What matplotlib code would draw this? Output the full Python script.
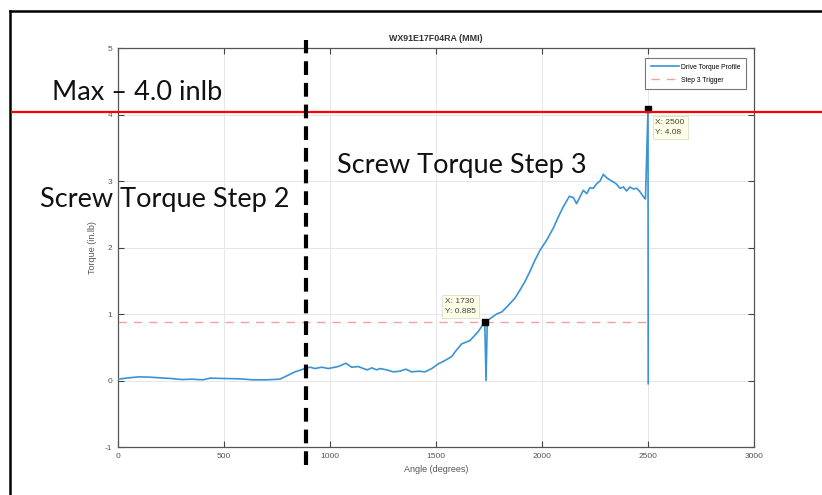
import matplotlib
matplotlib.use("Agg")
import matplotlib.pyplot as plt
from matplotlib.lines import Line2D

plt.rcParams["axes.unicode_minus"] = False

# ---- data ----
angle = [0, 50, 100, 150, 200, 250, 300, 350, 400, 434, 500, 575, 637, 700, 764,
         796, 835, 882, 906, 929, 961, 992, 1039, 1075, 1102, 1134, 1157, 1176,
         1197, 1220, 1236, 1267, 1299, 1330, 1358, 1385, 1417, 1448, 1480, 1511,
         1542, 1574, 1597, 1621, 1660, 1698, 1715, 1730, 1736, 1742, 1755, 1786,
         1810, 1841, 1873, 1896, 1920, 1943, 1967, 1991, 2022, 2053, 2077, 2100,
         2129, 2148, 2163, 2179, 2195, 2211, 2226, 2242, 2258, 2274, 2289, 2308,
         2329, 2349, 2368, 2384, 2399, 2415, 2431, 2447, 2462, 2481, 2488, 2500, 2501]
torque = [0.02, 0.04, 0.055, 0.05, 0.04, 0.03, 0.015, 0.02, 0.01, 0.035, 0.03, 0.025, 0.01, 0.01, 0.02,
          0.07, 0.13, 0.18, 0.2, 0.18, 0.2, 0.18, 0.21, 0.26, 0.2, 0.21, 0.18, 0.16,
          0.19, 0.16, 0.18, 0.16, 0.13, 0.14, 0.17, 0.13, 0.14, 0.13, 0.18, 0.25,
          0.30, 0.36, 0.46, 0.55, 0.6, 0.73, 0.81, 0.885, 0.0, 0.9, 0.93, 1.0,
          1.03, 1.13, 1.24, 1.36, 1.49, 1.64, 1.81, 1.96, 2.11, 2.29, 2.46, 2.61,
          2.77, 2.75, 2.66, 2.76, 2.86, 2.81, 2.90, 2.89, 2.96, 3.0, 3.10, 3.04,
          3.0, 2.96, 2.89, 2.91, 2.85, 2.91, 2.88, 2.89, 2.84, 2.75, 2.73, 4.08, -0.05]
trigger_level = 0.885
trigger_range = [0, 2500]
tips = [(1730, 0.885), (2500, 4.08)]
tip_labels = ["X: 1730\nY: 0.885", "X: 2500\nY: 4.08"]
max_level = 4.04
step_boundary = 887
xticks = [0, 500, 1000, 1500, 2000, 2500, 3000]
yticks = [-1, 0, 1, 2, 3, 4, 5]

W, H = 822, 495
fig = plt.figure(figsize=(W / 100, H / 100), dpi=100)
ax = fig.add_axes([118 / W, 1 - 447 / H, 636 / W, 399 / H])

small = ["Liberation Sans", "DejaVu Sans"]

ax.plot(angle, torque, color="#3A93D6", lw=1.2, label="Drive Torque Profile", zorder=3)
ax.plot(trigger_range, [trigger_level, trigger_level], color="#F4A0A0", lw=1.0,
        ls=(0, (6, 5)), label="Step 3 Trigger", zorder=2)
for (tx, ty) in tips:
    ax.plot([tx], [ty], marker="s", ms=4.5, color="black", zorder=5)

ax.text(1730 - 40, 0.885 + 0.1, tip_labels[0], fontsize=6.0, color="#444444",
        ha="right", va="bottom", linespacing=1.6, family=small, multialignment="left",
        bbox=dict(boxstyle="square,pad=0.35", fc="#FFFFE8", ec="#DDDDCC", lw=0.6), zorder=6)
ax.text(2500 + 35, 4.08 - 0.15, tip_labels[1], fontsize=6.0, color="#444444",
        ha="left", va="top", linespacing=1.6, family=small, multialignment="left",
        bbox=dict(boxstyle="square,pad=0.35", fc="#FFFFE8", ec="#DDDDCC", lw=0.6), zorder=6)

ax.set_xlim(0, 3000)
ax.set_ylim(-1, 5)
ax.set_xticks(xticks)
ax.set_yticks(yticks)
ax.grid(True, color="#E6E6E6", lw=0.7)
ax.set_axisbelow(True)
ax.tick_params(direction="in", top=True, right=True, length=4, width=0.8,
               labelsize=6.0, labelcolor="#555555", color="#444444", pad=4)
for lab in ax.get_xticklabels() + ax.get_yticklabels():
    lab.set_family(small)
for s in ax.spines.values():
    s.set_color("#555555")
    s.set_linewidth(0.9)
ax.set_xlabel("Angle (degrees)", fontsize=6.5, color="#555555", labelpad=4, family=small)
ax.set_ylabel("Torque (in.lb)", fontsize=6.5, color="#555555", labelpad=6, family=small)
ax.set_title("WX91E17F04RA (MMI)", fontsize=6.4, fontweight="bold", color="#333333", pad=5,
             family=small)

leg = ax.legend(loc="upper right", bbox_to_anchor=(0.99, 0.978),
                prop={"family": small, "size": 4.9},
                frameon=True, fancybox=False, edgecolor="#555555", handlelength=4.2,
                handletextpad=0.3, borderpad=0.8, labelspacing=0.9, borderaxespad=0.2)
leg.get_frame().set_linewidth(0.8)

# ---- figure-level annotations ----
fig.add_artist(Line2D([10 / W, 10 / W], [0, 1 - 11 / H], transform=fig.transFigure,
                      color="black", lw=1.8))
fig.add_artist(Line2D([10 / W, 1], [1 - 11 / H, 1 - 11 / H], transform=fig.transFigure,
                      color="black", lw=1.8))

ymax_fig = ax.transData.transform((0, max_level))[1] / H
fig.add_artist(Line2D([12 / W, 1], [ymax_fig, ymax_fig], transform=fig.transFigure,
                      color="#FF0000", lw=1.6, zorder=10))

xb_fig = ax.transData.transform((step_boundary, 0))[0] / W
fig.add_artist(Line2D([xb_fig, xb_fig], [1 - 465 / H, 1 - 40 / H], transform=fig.transFigure,
                      color="black", lw=3.0, ls=(0, (3.3, 1.9)), zorder=10))

font = "Lato"
fig.text(52 / W, 1 - 100 / H, "Max – 4.0 inlb", fontsize=19.5, family=font, va="baseline",
         ha="left", color="#111111", zorder=11)
fig.text(40 / W, 1 - 207 / H, "Screw Torque Step 2", fontsize=19.5, family=font, va="baseline",
         ha="left", color="#111111", zorder=11)
fig.text(337 / W, 1 - 173 / H, "Screw Torque Step 3", fontsize=19.5, family=font, va="baseline",
         ha="left", color="#111111", zorder=11)

fig.savefig("out.png", dpi=100)
